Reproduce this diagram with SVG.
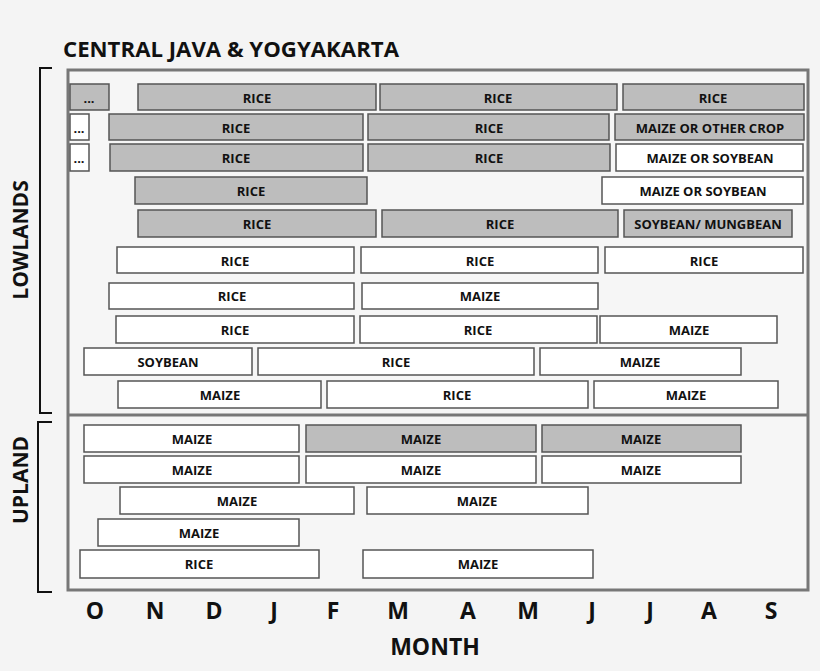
<svg xmlns="http://www.w3.org/2000/svg" width="820" height="671" viewBox="0 0 820 671">
<style>
.b{stroke:#555;stroke-width:1.5}
.g{fill:#bdbdbd}
.w{fill:#fff}
text{font-family:"Open Sans","Liberation Sans",sans-serif;font-weight:bold;fill:#111}
.l{font-size:13px;text-anchor:middle;dominant-baseline:central}
.m{font-size:23px;text-anchor:middle}
.br{fill:none;stroke:#111;stroke-width:2}
</style>
<rect width="820" height="671" fill="#f4f4f4"/>
<text x="63" y="57" font-size="21" textLength="336" lengthAdjust="spacingAndGlyphs">CENTRAL JAVA &amp; YOGYAKARTA</text>
<rect x="68" y="70" width="740" height="520" fill="#f6f6f6" stroke="#777" stroke-width="3"/>
<line x1="68" y1="415" x2="808" y2="415" stroke="#777" stroke-width="3"/>
<path class="br" d="M52 68 H40 V413 H52"/>
<path class="br" d="M52 422 H38 V592 H52"/>
<text font-size="21" transform="translate(28,240) rotate(-90)" text-anchor="middle">LOWLANDS</text>
<text font-size="21" transform="translate(28,480) rotate(-90)" text-anchor="middle">UPLAND</text>
<g id="bars">
<g id="r1"><rect class="b g" x="70" y="84" width="39" height="26"/><text class="l" x="89" y="98">...</text><rect class="b g" x="138" y="84" width="238" height="26"/><text class="l" x="257" y="98">RICE</text><rect class="b g" x="380" y="84" width="237" height="26"/><text class="l" x="498" y="98">RICE</text><rect class="b g" x="623" y="84" width="181" height="26"/><text class="l" x="713" y="98">RICE</text></g>
<g id="r2"><rect class="b w" x="70" y="114" width="19" height="26"/><text class="l" x="79" y="128">...</text><rect class="b g" x="109" y="114" width="254" height="26"/><text class="l" x="236" y="128">RICE</text><rect class="b g" x="368" y="114" width="241" height="26"/><text class="l" x="489" y="128">RICE</text><rect class="b g" x="615" y="114" width="189" height="26"/><text class="l" x="710" y="128">MAIZE OR OTHER CROP</text></g>
<g id="r3"><rect class="b w" x="70" y="144" width="19" height="27"/><text class="l" x="79" y="158">...</text><rect class="b g" x="110" y="144" width="253" height="27"/><text class="l" x="236" y="158">RICE</text><rect class="b g" x="368" y="144" width="242" height="27"/><text class="l" x="489" y="158">RICE</text><rect class="b w" x="616" y="144" width="187" height="27"/><text class="l" x="710" y="158" font-size="12">MAIZE OR SOYBEAN</text></g>
<g id="r4"><rect class="b g" x="135" y="177" width="232" height="27"/><text class="l" x="251" y="191">RICE</text><rect class="b w" x="602" y="177" width="201" height="27"/><text class="l" x="703" y="191">MAIZE OR SOYBEAN</text></g>
<g id="r5"><rect class="b g" x="138" y="210" width="238" height="27"/><text class="l" x="257" y="224">RICE</text><rect class="b g" x="382" y="210" width="236" height="27"/><text class="l" x="500" y="224">RICE</text><rect class="b g" x="624" y="210" width="168" height="27"/><text class="l" x="708" y="224" font-size="12">SOYBEAN/ MUNGBEAN</text></g>
<g id="r6"><rect class="b w" x="117" y="247" width="237" height="26"/><text class="l" x="235" y="261">RICE</text><rect class="b w" x="361" y="247" width="237" height="26"/><text class="l" x="480" y="261">RICE</text><rect class="b w" x="605" y="247" width="198" height="26"/><text class="l" x="704" y="261">RICE</text></g>
<g id="r7"><rect class="b w" x="109" y="283" width="245" height="26"/><text class="l" x="232" y="296">RICE</text><rect class="b w" x="362" y="283" width="236" height="26"/><text class="l" x="480" y="296">MAIZE</text></g>
<g id="r8"><rect class="b w" x="116" y="316" width="238" height="27"/><text class="l" x="235" y="330">RICE</text><rect class="b w" x="360" y="316" width="237" height="27"/><text class="l" x="478" y="330">RICE</text><rect class="b w" x="600" y="316" width="177" height="27"/><text class="l" x="689" y="330">MAIZE</text></g>
<g id="r9"><rect class="b w" x="84" y="348" width="168" height="27"/><text class="l" x="168" y="362">SOYBEAN</text><rect class="b w" x="258" y="348" width="276" height="27"/><text class="l" x="396" y="362">RICE</text><rect class="b w" x="540" y="348" width="201" height="27"/><text class="l" x="640" y="362">MAIZE</text></g>
<g id="r10"><rect class="b w" x="118" y="381" width="203" height="27"/><text class="l" x="220" y="395">MAIZE</text><rect class="b w" x="327" y="381" width="261" height="27"/><text class="l" x="457" y="395">RICE</text><rect class="b w" x="594" y="381" width="184" height="27"/><text class="l" x="686" y="395">MAIZE</text></g>
<g id="u1"><rect class="b w" x="84" y="425" width="215" height="27"/><text class="l" x="192" y="439">MAIZE</text><rect class="b g" x="306" y="425" width="230" height="27"/><text class="l" x="421" y="439">MAIZE</text><rect class="b g" x="542" y="425" width="199" height="27"/><text class="l" x="641" y="439">MAIZE</text></g>
<g id="u2"><rect class="b w" x="84" y="456" width="215" height="27"/><text class="l" x="192" y="470">MAIZE</text><rect class="b w" x="306" y="456" width="230" height="27"/><text class="l" x="421" y="470">MAIZE</text><rect class="b w" x="542" y="456" width="199" height="27"/><text class="l" x="641" y="470">MAIZE</text></g>
<g id="u3"><rect class="b w" x="120" y="487" width="234" height="27"/><text class="l" x="237" y="501">MAIZE</text><rect class="b w" x="367" y="487" width="221" height="27"/><text class="l" x="477" y="501">MAIZE</text></g>
<g id="u4"><rect class="b w" x="98" y="519" width="201" height="27"/><text class="l" x="199" y="533">MAIZE</text></g>
<g id="u5"><rect class="b w" x="80" y="550" width="239" height="28"/><text class="l" x="199" y="564">RICE</text><rect class="b w" x="363" y="550" width="230" height="28"/><text class="l" x="478" y="564">MAIZE</text></g>
</g>
<g id="months">
<text class="m" x="95" y="619">O</text><text class="m" x="155" y="619">N</text><text class="m" x="214" y="619">D</text><text class="m" x="274" y="619">J</text><text class="m" x="333" y="619">F</text><text class="m" x="398" y="619">M</text><text class="m" x="468" y="619">A</text><text class="m" x="528" y="619">M</text><text class="m" x="592" y="619">J</text><text class="m" x="650" y="619">J</text><text class="m" x="709" y="619">A</text><text class="m" x="771" y="619">S</text>
<text class="m" x="435" y="655" font-size="25">MONTH</text>
</g>
</svg>
